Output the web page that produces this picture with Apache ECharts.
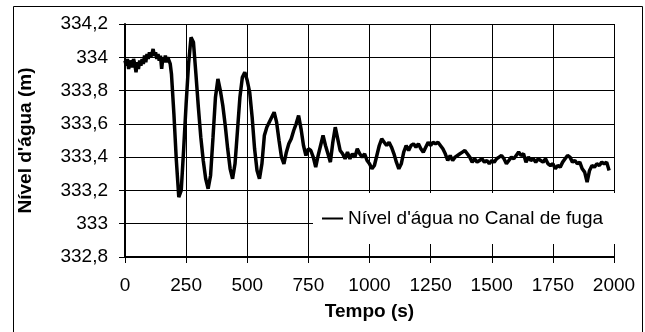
<!DOCTYPE html>
<html>
<head>
<meta charset="utf-8">
<script src="https://cdn.jsdelivr.net/npm/echarts@6/dist/echarts.min.js"></script>
<style>
html,body{margin:0;padding:0;background:#fff;}
#c{width:645px;height:332px;}
</style>
</head>
<body>
<div id="c"></div>
<script>
const seriesName = "Nível d'água no Canal de fuga";
const xTitle = "Tempo (s)";
const yTitle = "Nível d'água (m)";
const times = [
  0,5,10,15,20,25,30,35,40,45,50,55,60,65,70,75,80,85,90,95,
  100,105,110,115,120,125,130,135,140,145,150,155,160,165,170,175,180,185,190,
  200,210,220,230,240,250,260,270,280,290,
  300,310,320,330,340,350,360,370,380,390,
  400,410,420,430,440,450,460,470,480,490,
  500,510,520,530,540,550,560,570,580,590,
  600,610,620,630,640,650,660,670,680,690,
  700,710,720,730,740,750,760,770,780,790,
  800,810,820,830,840,850,860,870,880,890,
  900,910,920,930,940,950,960,970,980,990,
  1000,1010,1020,1030,1040,1050,1060,1070,1080,1090,
  1100,1110,1120,1130,1140,1150,1160,1170,1180,1190,
  1200,1210,1220,1230,1240,1250,1260,1270,1280,1290,
  1300,1310,1320,1330,1340,1350,1360,1370,1380,1390,
  1400,1410,1420,1430,1440,1450,1460,1470,1480,1490,
  1500,1510,1520,1530,1540,1550,1560,1570,1580,1590,
  1600,1610,1620,1630,1640,1650,1660,1670,1680,1690,
  1700,1710,1720,1730,1740,1750,1760,1770,1780,1790,
  1800,1810,1820,1830,1840,1850,1860,1870,1880,1890,
  1900,1910,1920,1930,1940,1950,1960,1970,1980
];
const levels = [
  333.98,333.95,333.99,333.93,333.98,333.96,333.94,333.99,333.96,333.91,333.97,333.93,333.98,333.95,333.99,333.96,334.01,333.97,334.02,333.99,
  334.03,334.00,334.02,334.05,334.01,334.03,333.99,334.02,333.98,334.01,333.93,334.00,333.97,334.01,333.97,334.00,333.98,333.96,333.90,
  333.66,333.38,333.16,333.20,333.45,333.72,333.96,334.12,334.09,333.90,
  333.70,333.52,333.38,333.27,333.21,333.29,333.52,333.76,333.87,333.80,
  333.71,333.59,333.45,333.33,333.27,333.36,333.56,333.76,333.88,333.91,
  333.86,333.79,333.64,333.45,333.32,333.27,333.36,333.53,333.58,333.61,
  333.64,333.67,333.61,333.50,333.40,333.36,333.43,333.48,333.51,333.56,
  333.60,333.65,333.57,333.47,333.41,333.45,333.44,333.40,333.34,333.41,
  333.47,333.53,333.47,333.42,333.37,333.49,333.58,333.51,333.44,333.42,
  333.39,333.43,333.39,333.42,333.40,333.45,333.42,333.40,333.42,333.38,
  333.36,333.33,333.35,333.41,333.47,333.51,333.49,333.47,333.49,333.46,
  333.42,333.37,333.33,333.36,333.43,333.47,333.44,333.47,333.48,333.46,
  333.48,333.45,333.43,333.46,333.49,333.47,333.49,333.48,333.49,333.47,
  333.45,333.42,333.38,333.41,333.38,333.40,333.41,333.42,333.43,333.44,
  333.42,333.40,333.37,333.39,333.37,333.38,333.39,333.37,333.38,333.36,
  333.38,333.37,333.39,333.40,333.41,333.39,333.36,333.38,333.40,333.39,
  333.41,333.43,333.41,333.42,333.37,333.40,333.38,333.39,333.37,333.39,
  333.38,333.37,333.39,333.36,333.35,333.36,333.33,333.35,333.34,333.37,
  333.39,333.41,333.40,333.37,333.38,333.36,333.37,333.33,333.31,333.25,
  333.32,333.35,333.34,333.36,333.35,333.37,333.36,333.37,333.32
];

const FONT = "'Liberation Sans', Arial, sans-serif";
const chart = echarts.init(document.getElementById('c'), null, {renderer: 'canvas'});
const data = times.map((t, i) => [t, levels[i]]);

chart.setOption({
  animation: false,
  backgroundColor: '#fff',
  grid: {left: 125, top: 24, right: 31, bottom: 75, containLabel: false},
  graphic: [{
    type: 'rect', left: 11, top: 4, silent: true, z: -1,
    shape: {x: 0, y: 0, width: 629, height: 340},
    style: {fill: 'none', stroke: '#000', lineWidth: 1}
  }],
  xAxis: {
    type: 'value', min: 0, max: 2000, interval: 250,
    name: xTitle, nameLocation: 'middle', nameGap: 45,
    nameTextStyle: {fontFamily: FONT, fontSize: 19, fontWeight: 'bold', color: '#000'},
    axisLine: {show: true, onZero: false, lineStyle: {color: '#000', width: 2}},
    axisTick: {show: true, length: 6, lineStyle: {color: '#000', width: 1}},
    axisLabel: {fontFamily: FONT, fontSize: 19, color: '#000', margin: 19,
      formatter: v => String(v)},
    splitLine: {show: true, lineStyle: {color: '#000', width: 1}}
  },
  yAxis: {
    type: 'value', min: 332.8, max: 334.2, interval: 0.2,
    name: yTitle, nameLocation: 'middle', nameGap: 90, nameRotate: 90,
    nameTextStyle: {fontFamily: FONT, fontSize: 19, fontWeight: 'bold', color: '#000'},
    axisLine: {show: true, lineStyle: {color: '#000', width: 2}},
    axisTick: {show: true, length: 6, lineStyle: {color: '#000', width: 1}},
    axisLabel: {
      fontFamily: FONT, fontSize: 19, color: '#000', margin: 17,
      formatter: v => String(Number(v.toFixed(1))).replace('.', ',')
    },
    splitLine: {show: true, lineStyle: {color: '#000', width: 1}}
  },
  legend: {
    show: true, left: 313, top: 193,
    padding: [16, 13, 16, 9],
    backgroundColor: '#fff',
    icon: 'rect',
    itemWidth: 21, itemHeight: 2,
    itemGap: 5,
    textStyle: {fontFamily: FONT, fontSize: 19, color: '#000'},
    data: [seriesName],
    z: 10
  },
  series: [{
    name: seriesName, type: 'line', data: data,
    symbol: 'none', showSymbol: false,
    lineStyle: {color: '#000', width: 3.5},
    itemStyle: {color: '#000'},
    z: 3
  }]
});
</script>
</body>
</html>
